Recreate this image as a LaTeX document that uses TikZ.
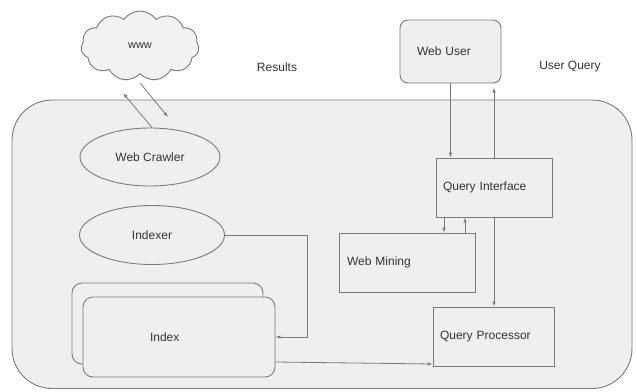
\documentclass[tikz,border=0pt]{standalone}
\usepackage{fontspec}
\setmainfont{Liberation Sans}
\usetikzlibrary{shapes.geometric,shapes.symbols,arrows.meta}
\definecolor{ln}{HTML}{7A7A7A}
\definecolor{bg}{HTML}{EFEFEF}
\definecolor{tx}{HTML}{333333}
\tikzset{
  arr/.style={draw=ln, line width=0.8pt, -{Latex[length=5pt,width=3.5pt]}},
  box/.style={draw=ln, line width=0.9pt, fill=bg, text=tx, font=\fontsize{12}{14}\selectfont, align=left},
  ell/.style={ellipse, draw=ln, line width=0.9pt, fill=bg, text=tx, font=\fontsize{12}{14}\selectfont, inner sep=0pt},
  lbl/.style={text=tx, font=\fontsize{12}{14}\selectfont}
}
\begin{document}
\begin{tikzpicture}[x=1pt,y=-1pt]
\useasboundingbox (0,0) rectangle (637,391);
\fill[white] (0,0) rectangle (637,391);
% system container
\draw[draw=ln, line width=0.9pt, fill=bg, rounded corners=40pt] (12,100) rectangle (632,388.5);
% cloud
\node[cloud, cloud puffs=11, cloud puff arc=110, aspect=1.7, draw=ln, line width=0.9pt, fill=bg!80!white, text=tx,
      minimum width=118pt, minimum height=70pt, inner sep=0pt, font=\fontsize{11}{13}\selectfont] (www) at (140,46) {www};
\node[lbl] (results) at (277,67) {Results};
\node[lbl] (uquery) at (570,67) {User Query};
% web user
\node[box, rounded corners=8pt, minimum height=63pt, inner xsep=17pt, text width=67pt] (webuser) at (450.5,51.5) {Web User};
% ellipses
\node[ell, minimum width=140pt, minimum height=58pt] (crawler) at (150,157) {Web Crawler};
\node[ell, minimum width=145pt, minimum height=59pt] (indexer) at (152,235) {Indexer};
% query side boxes
\node[box, minimum height=59pt, inner xsep=7pt, text width=102pt] (qi) at (494,187.5) {Query Interface};
\node[box, minimum height=59pt, inner xsep=8pt, text width=120pt] (wm) at (407,262.5) {Web Mining};
\node[box, minimum height=59pt, inner xsep=7pt, text width=107pt] (qp) at (493.5,336.5) {Query Processor};
% index stack
\node[box, rounded corners=10pt, minimum height=81pt, minimum width=191pt] (indexback) at (167.5,323.5) {};
\node[box, rounded corners=10pt, minimum height=80pt, inner xsep=67pt, text width=58pt] (index) at (179,337) {Index};
% free ends near the cloud
\coordinate (wup) at (123,93);
\coordinate (wdn1) at (140,83);
\coordinate (wdn2) at (168,117);
% connectors
\draw[arr] ([xshift=2pt]crawler.north) -- (wup);
\draw[arr] (wdn1) -- (wdn2);
\draw[arr] (webuser.south) -- (webuser.south |- qi.north);
\draw[arr] (qi.north) -- ++(0,-70);
\draw[arr] ([xshift=-50pt]qi.south) -- ([xshift=-50pt]qi.south |- wm.north);
\draw[arr] ([xshift=-29pt]qi.south |- wm.north) -- ([xshift=-29pt]qi.south);
\draw[arr] (qi.south) -- (qi.south |- qp.north);
\draw[arr] (indexer.east) -- ([xshift=82pt]indexer.east) |- (index.east);
\draw[arr] ([yshift=-25pt]index.east) -- ([yshift=-27.5pt]qp.west);
\end{tikzpicture}
\end{document}
